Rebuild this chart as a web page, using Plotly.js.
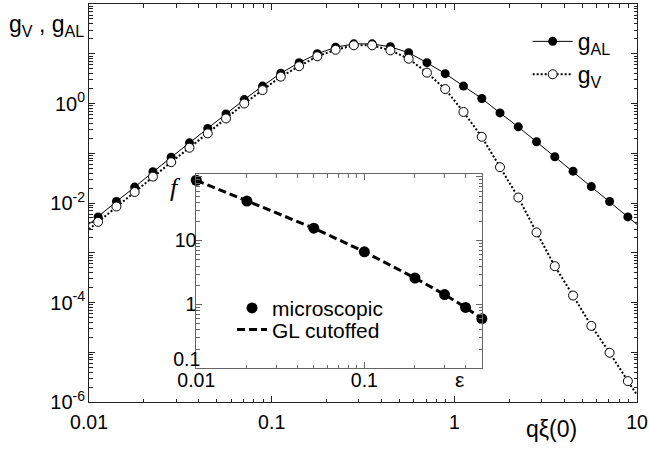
<!DOCTYPE html>
<html>
<head>
<meta charset="utf-8">
<script src="https://cdn.plot.ly/plotly-3.0.1.min.js"></script>
<style>html,body{margin:0;padding:0;background:#fff;}#chart{width:649px;height:449px;}</style>
</head>
<body>
<div id="chart"></div>
<script>
// ---- main panel data ----
const qxi = [0.01122, 0.01413, 0.01778, 0.02239, 0.02818, 0.03548, 0.04467, 0.05623, 0.07079, 0.08913,
             0.1122, 0.1413, 0.1778, 0.2239, 0.2818, 0.3548, 0.4467, 0.5623, 0.7079, 0.8913,
             1.122, 1.413, 1.778, 2.239, 2.818, 3.548, 4.467, 5.623, 7.079, 8.913];
const gAL = [0.00525, 0.0107, 0.0209, 0.0427, 0.0832, 0.162, 0.316, 0.617, 1.20, 2.24,
             4.07, 6.61, 10.0, 13.5, 15.8, 15.8, 13.8, 10.5, 6.61, 3.98,
             2.24, 1.26, 0.646, 0.339, 0.170, 0.0851, 0.0437, 0.0214, 0.0107, 0.00525];
const gV  = [0.00417, 0.00851, 0.0166, 0.0339, 0.0661, 0.129, 0.251, 0.501, 1.00, 1.86,
             3.47, 5.62, 8.91, 12.0, 14.8, 14.8, 11.7, 7.94, 4.17, 1.95,
             0.676, 0.214, 0.0525, 0.0129, 0.00257, 0.000537, 0.000138, 3.39e-5, 9.77e-6, 2.63e-6];
// curve values at the axis edges (lines run to the frame)
const qEdge = [0.01, 10];
const gALEdge = [0.00376, 0.0037];
const gVEdge = [0.00295, 1.38e-6];

// ---- inset data ----
const eps = [0.01, 0.02, 0.05, 0.1, 0.2, 0.3, 0.4, 0.5];
const fMicro = [88.5, 41.7, 15.7, 6.7, 2.6, 1.43, 0.9, 0.6];
const fGL = [88.5, 41.7, 15.7, 6.7, 2.6, 1.43, 0.9, 0.6];

// ---- tick labels ----
const xTickVals = [0.01, 0.1, 1, 10];
const xTickText = ["0.01", "0.1", "1", "10"];
const yTickVals = [1e-6, 1e-5, 1e-4, 1e-3, 1e-2, 1e-1, 1, 10, 100];
const yTickText = ["10<sup>-6</sup>", "", "10<sup>-4</sup>", "", "10<sup>-2</sup>", "", "10<sup>0</sup>", "", ""];
const insXTickVals = [0.01, 0.1];
const insXTickText = ["0.01", "0.1"];
const insYTickVals = [0.1, 1, 10, 100];
const insYTickText = ["", "1", "10", ""];

function minorTicks(lo, hi) {
  const out = [];
  for (let e = lo; e < hi; e++) for (let m = 2; m <= 9; m++) out.push(m * Math.pow(10, e));
  return out;
}

const curveX = [qEdge[0]].concat(qxi, [qEdge[1]]);
const alCurve = [gALEdge[0]].concat(gAL, [gALEdge[1]]);
const vCurve = [gVEdge[0]].concat(gV, [gVEdge[1]]);

const FONT = "Liberation Sans, Arial, Helvetica, sans-serif";
const MAIN = "#222";
const INS = "#666";

const traces = [
  {x: curveX, y: alCurve, mode: "lines", line: {color: "#000", width: 1}, showlegend: false, hoverinfo: "skip"},
  {x: qxi, y: gAL, mode: "markers", marker: {symbol: "circle", size: 9, color: "#000"}, showlegend: false, cliponaxis: false},
  {x: curveX, y: vCurve, mode: "lines", line: {color: "#000", width: 2, dash: "2px,2px"}, showlegend: false, hoverinfo: "skip"},
  {x: qxi, y: gV, mode: "markers", marker: {symbol: "circle", size: 9, color: "#fff", line: {color: "#000", width: 1}}, showlegend: false, cliponaxis: false},
  {x: [null], y: [null], mode: "lines+markers", name: "g<sub>AL</sub>", line: {color: "#000", width: 1}, marker: {size: 9, color: "#000"}, legend: "legend"},
  {x: [null], y: [null], mode: "lines+markers", name: "g<sub>V</sub>", line: {color: "#000", width: 2, dash: "2px,2px"}, marker: {size: 9, color: "#fff", line: {color: "#000", width: 1}}, legend: "legend"},
  // inset
  {x: eps, y: fGL, xaxis: "x2", yaxis: "y2", mode: "lines", name: "GL cutoffed", line: {color: "#000", width: 3, dash: "8px,4px"}, legend: "legend3", cliponaxis: false},
  {x: eps, y: fMicro, xaxis: "x2", yaxis: "y2", mode: "markers", name: "microscopic", marker: {size: 11, color: "#000"}, legend: "legend2", cliponaxis: false},
  {x: [null], y: [null], xaxis: "x2", yaxis: "y3", mode: "markers", showlegend: false, hoverinfo: "skip"}
];

const axBase = {
  type: "log", showgrid: false, zeroline: false, showline: true, mirror: "ticks",
  ticks: "inside", tickmode: "array", ticklen: 6, tickwidth: 1,
  tickfont: {family: FONT, size: 20, color: "#000"}
};

const INS_YR = [-1, 2.04];

const legBase = {xanchor: "left", yanchor: "top", bgcolor: "rgba(0,0,0,0)", borderwidth: 0};

const layout = {
  width: 649, height: 449,
  margin: {l: 89, r: 12, t: 4, b: 47},
  paper_bgcolor: "#fff", plot_bgcolor: "#fff",
  font: {family: FONT, color: "#000"},
  xaxis: Object.assign({}, axBase, {
    range: [-2, 1], tickvals: xTickVals, ticktext: xTickText, linecolor: MAIN, tickcolor: MAIN,
    tickfont: {family: FONT, size: 19.5, color: "#000"}, ticklabelstandoff: 3,
    minor: {tickmode: "array", tickvals: minorTicks(-2, 1), ticks: "inside", ticklen: 3.5, tickcolor: MAIN}
  }),
  yaxis: Object.assign({}, axBase, {
    range: [-6, 2], tickvals: yTickVals, ticktext: yTickText, linecolor: MAIN, tickcolor: MAIN,
    ticklabelstandoff: -1,
    minor: {tickmode: "array", tickvals: minorTicks(-6, 2), ticks: "inside", ticklen: 3.5, tickcolor: MAIN}
  }),
  xaxis2: Object.assign({}, axBase, {
    domain: [0.1958, 0.7172], anchor: "y2", range: [-2, -0.3],
    tickvals: insXTickVals, ticktext: insXTickText, linecolor: INS, tickcolor: INS,
    tickfont: {family: FONT, size: 19.5, color: "#000"}, ticklabelstandoff: -6,
    minor: {tickmode: "array", tickvals: minorTicks(-2, 0).filter(v => v < 0.5), ticks: "inside", ticklen: 3.5, tickcolor: INS}
  }),
  yaxis2: Object.assign({}, axBase, {
    domain: [0.0847, 0.5721], anchor: "x2", range: INS_YR,
    tickvals: insYTickVals, ticktext: insYTickText, linecolor: INS, tickcolor: INS,
    tickfont: {family: FONT, size: 19.5, color: "#000"}, ticklabelstandoff: -5,
    minor: {tickmode: "array", tickvals: minorTicks(-1, 2), ticks: "inside", ticklen: 3.5, tickcolor: INS}
  }),
  yaxis3: {
    type: "log", overlaying: "y2", anchor: "x2", range: INS_YR, side: "left",
    showgrid: false, zeroline: false, showline: false, ticks: "",
    tickmode: "array", tickvals: [0.1], ticktext: ["0.1"], ticklabelshift: -9, ticklabelstandoff: -5,
    tickfont: {family: FONT, size: 19.5, color: "#000"}
  },
  legend: Object.assign({}, legBase, {
    x: 0.8005, y: 0.960, itemwidth: 40, tracegroupgap: 0,
    font: {family: FONT, size: 23, color: "#000"}
  }),
  legend2: Object.assign({}, legBase, {
    x: 0.261, y: 0.287, font: {family: FONT, size: 21, color: "#000"}
  }),
  legend3: Object.assign({}, legBase, {
    x: 0.261, y: 0.2327, font: {family: FONT, size: 21, color: "#000"}
  }),
  annotations: [
    {text: "g<sub>V</sub> , g<sub>AL</sub>", xref: "paper", yref: "paper", x: -0.1496, y: 0.945,
     xanchor: "left", yanchor: "middle", showarrow: false, font: {family: FONT, size: 23, color: "#000"}},
    {text: "qξ(0)", xref: "paper", yref: "paper", x: 0.8443, y: -0.0678,
     xanchor: "center", yanchor: "middle", showarrow: false, font: {family: FONT, size: 23, color: "#000"}},
    {text: "<i>f</i>", xref: "paper", yref: "paper", x: 0.157, y: 0.540,
     xanchor: "center", yanchor: "middle", showarrow: false, font: {family: "Liberation Serif, DejaVu Serif, serif", size: 26, color: "#000"}},
    {text: "ε", xref: "paper", yref: "paper", x: 0.677, y: 0.0553,
     xanchor: "center", yanchor: "middle", showarrow: false, font: {family: FONT, size: 21, color: "#000"}}
  ],
  showlegend: true
};

Plotly.newPlot("chart", traces, layout, {staticPlot: true, displayModeBar: false});
</script>
</body>
</html>
